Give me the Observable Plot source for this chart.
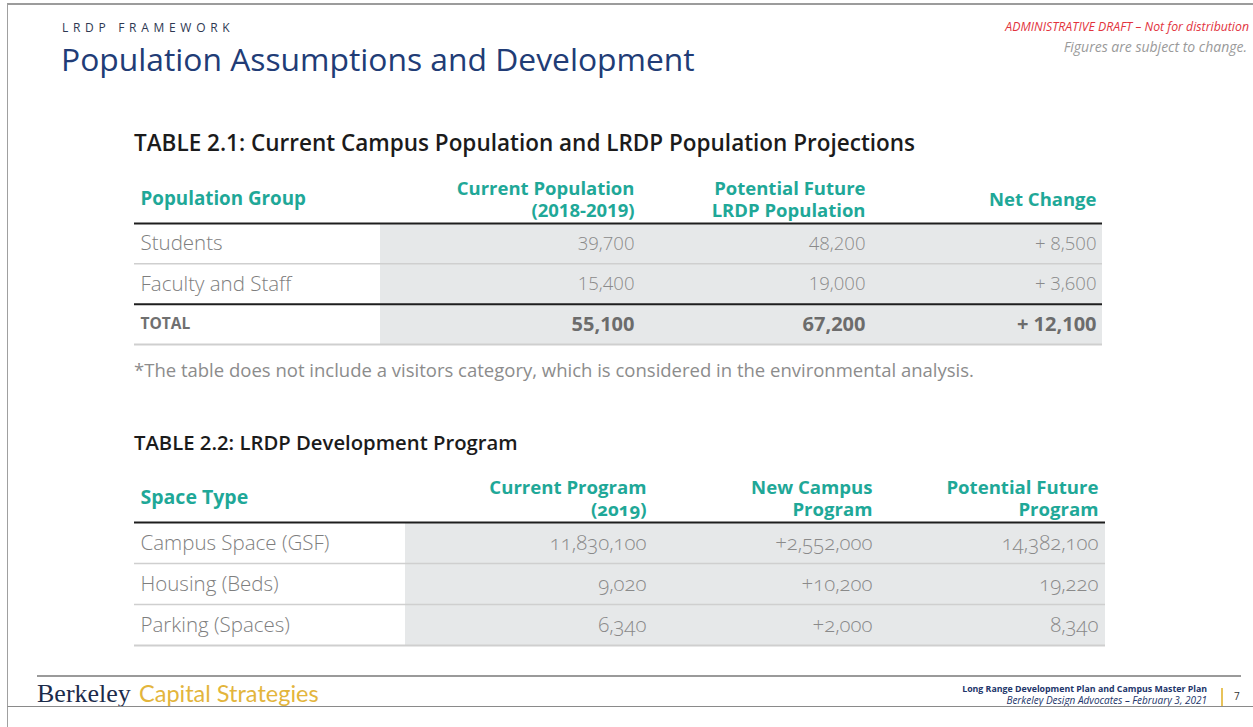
<!DOCTYPE html>
<html>
<head>
<meta charset="utf-8">
<script src="https://cdn.jsdelivr.net/npm/d3@7"></script>
<script src="https://cdn.jsdelivr.net/npm/@observablehq/plot@0.6"></script>
<style>
  html, body { margin: 0; padding: 0; background: #fff; }
  #page { position: relative; width: 1253px; height: 727px; overflow: hidden; background: #fff; }
  #slide { position: absolute; left: 7px; top: 3px; width: 1246px; height: 704px; overflow: hidden;
           border-top: 2px solid #9c9c9c; border-left: 1px solid #a0a0a0; border-bottom: 1.5px solid #8a8a8a;
           box-sizing: border-box; }
  #leftline { position: absolute; left: 7px; top: 3px; width: 1px; height: 724px; background: #a0a0a0; }
  .t { position: absolute; white-space: nowrap; line-height: 1; font-family: "Open Sans", sans-serif; }
  .plotwrap { position: absolute; left: -8px; }
  .plotwrap svg { display: block; overflow: visible; }
</style>
</head>
<body>
<div id="page">
  <div id="leftline"></div>
  <div id="slide">
    <div class="t" style="left:54px; top:17px; font-size:12px; letter-spacing:4.7px; color:#2e3852;">LRDP FRAMEWORK</div>
    <div class="t" style="left:53px; top:38px; font-size:31.8px; color:#213c76;">Population Assumptions and Development</div>
    <div class="t" style="right:4px; top:16px; font-size:12.3px; font-style:italic; color:#e2333d;">ADMINISTRATIVE DRAFT – Not for distribution</div>
    <div class="t" style="right:6px; top:35px; font-size:14px; font-style:italic; color:#9a9a9a;">Figures are subject to change.</div>

    <div class="t" style="left:126px; top:127px; font-size:22.5px; font-weight:600; color:#1b1b1b;">TABLE 2.1: Current Campus Population and LRDP Population Projections</div>
    <div class="plotwrap" id="table1" style="top:150px;"></div>
    <div class="t" style="left:126px; top:356px; font-size:18.5px; color:#8c8c8c;">*The table does not include a visitors category, which is considered in the environmental analysis.</div>

    <div class="t" style="left:126px; top:427px; font-size:20.3px; font-weight:600; color:#1b1b1b;">TABLE 2.2: LRDP Development Program</div>
    <div class="plotwrap" id="table2" style="top:450px;"></div>

    <div style="position:absolute; left:29px; top:670px; width:1204px; height:1.5px; background:#9a9a9a;"></div>
    <div class="t" style="left:29px; top:676px; font-family:'Liberation Serif', serif; font-size:26px; color:#1c2b4b;">Berkeley</div>
    <div class="t" style="left:131px; top:677px; font-family:Lato, sans-serif; font-size:23.5px; color:#e3b53c;">Capital Strategies</div>
    <div class="t" style="right:46px; top:680px; font-size:8.8px; font-weight:700; color:#22356a;">Long Range Development Plan and Campus Master Plan</div>
    <div class="t" style="right:46px; top:690px; font-size:10px; font-style:italic; color:#22356a;">Berkeley Design Advocates – February 3, 2021</div>
    <div style="position:absolute; left:1213px; top:683px; width:2px; height:22px; background:#e8c35a;"></div>
    <div class="t" style="left:1226px; top:686px; font-size:10px; color:#333;">7</div>
  </div>
</div>
<script>
// ---------- Data ----------
const popGroups = ["Students", "Faculty and Staff", "TOTAL"];
const popColumns = ["Current Population\n(2018-2019)", "Potential Future\nLRDP Population", "Net Change"];
const popCurrent = [39700, 15400, 55100];
const popFuture = [48200, 19000, 67200];
const popNet = [8500, 3600, 12100];
const popLabelHeader = "Population Group";

const spaceTypes = ["Campus Space (GSF)", "Housing (Beds)", "Parking (Spaces)"];
const progColumns = ["Current Program\n(2019)", "New Campus\nProgram", "Potential Future\nProgram"];
const progCurrent = [11830100, 9020, 6340];
const progNew = [2552000, 10200, 2000];
const progFuture = [14382100, 19220, 8340];
const progLabelHeader = "Space Type";

// ---------- Helpers ----------
const fmt = d3.format(",");
const teal = "#1fa898";
const shade = "#e6e8e9";
const textGray = "#8a8a8a";

function cellsFrom(columns, series, formats) {
  const out = [];
  series.forEach((vals, j) => {
    vals.forEach((v, i) => out.push({row: i, col: columns[j], value: v, label: formats[j](v)}));
  });
  return out;
}

// ---------- Table 2.1 ----------
const cells1 = cellsFrom(popColumns, [popCurrent, popFuture, popNet],
  [fmt, fmt, v => "+ " + fmt(v)]);
const totalRow = popGroups.length - 1;

const t1 = Plot.plot({
  width: 1253, height: 195,
  marginLeft: 134, marginRight: 151, marginTop: 0, marginBottom: 0,
  style: {fontFamily: "Open Sans, sans-serif", background: "transparent", overflow: "visible"},
  x: {type: "point", domain: popColumns, range: [634, 1096], padding: 0, axis: null},
  y: {domain: [0, popGroups.length], range: [68, 189], axis: null},
  marks: [
    Plot.rect(popGroups, {y1: (d, i) => i, y2: (d, i) => i + 1, fill: shade, insetLeft: 246}),
    Plot.ruleY(d3.range(1, popGroups.length).filter(i => i !== totalRow), {stroke: "#cfcfcf", strokeWidth: 1.5}),
    Plot.ruleY([popGroups.length], {stroke: "#cfcfcf", strokeWidth: 2}),
    Plot.ruleY([0, totalRow], {stroke: "#1e1e1e", strokeWidth: 2}),
    // header
    Plot.text([popLabelHeader], {frameAnchor: "left", dx: 6, y: -0.6, text: d => d, textAnchor: "start",
      fill: teal, fontWeight: 700, fontSize: 18.8}),
    Plot.text(popColumns, {x: d => d, y: -0.6, text: d => d, textAnchor: "end", lineHeight: 1.17,
      fill: teal, fontWeight: 700, fontSize: 18.5}),
    // row labels
    Plot.text(popGroups.filter((d, i) => i !== totalRow), {frameAnchor: "left", dx: 6, y: (d, i) => i + 0.5,
      text: d => d, textAnchor: "start", fill: "#7e7e7e", fontSize: 20.5, fontWeight: 300}),
    Plot.text([popGroups[totalRow]], {frameAnchor: "left", dx: 6, y: totalRow + 0.5, text: d => d,
      textAnchor: "start", fill: "#707070", fontSize: 15.5, fontWeight: 700, letterSpacing: 2.6}),
    // values
    Plot.text(cells1.filter(d => d.row !== totalRow), {x: "col", y: d => d.row + 0.5, text: "label",
      textAnchor: "end", fill: textGray, fontSize: 18.5, fontWeight: 300}),
    Plot.text(cells1.filter(d => d.row === totalRow), {x: "col", y: d => d.row + 0.5, text: "label",
      textAnchor: "end", fill: "#6c6c6c", fontSize: 20, fontWeight: 700})
  ]
});
document.getElementById("table1").appendChild(t1);

// ---------- Table 2.2 ----------
const cells2 = cellsFrom(progColumns, [progCurrent, progNew, progFuture],
  [fmt, v => "+" + fmt(v), fmt]);

const t2 = Plot.plot({
  width: 1253, height: 195,
  marginLeft: 134, marginRight: 148, marginTop: 0, marginBottom: 0,
  style: {fontFamily: "Open Sans, sans-serif", background: "transparent", overflow: "visible",
          fontVariantNumeric: "oldstyle-nums"},
  x: {type: "point", domain: progColumns, range: [646, 1098], padding: 0, axis: null},
  y: {domain: [0, spaceTypes.length], range: [67, 190], axis: null},
  marks: [
    Plot.rect(spaceTypes, {y1: (d, i) => i, y2: (d, i) => i + 1, fill: shade, insetLeft: 271}),
    Plot.ruleY(d3.range(1, spaceTypes.length), {stroke: "#cfcfcf", strokeWidth: 1.5}),
    Plot.ruleY([spaceTypes.length], {stroke: "#cfcfcf", strokeWidth: 2}),
    Plot.ruleY([0], {stroke: "#1e1e1e", strokeWidth: 2}),
    Plot.text([progLabelHeader], {frameAnchor: "left", dx: 6, y: -0.6, text: d => d, textAnchor: "start",
      fill: teal, fontWeight: 700, fontSize: 19.5}),
    Plot.text(progColumns, {x: d => d, y: -0.6, text: d => d, textAnchor: "end", lineHeight: 1.2,
      fill: teal, fontWeight: 700, fontSize: 18.6}),
    Plot.text(spaceTypes, {frameAnchor: "left", dx: 6, y: (d, i) => i + 0.5, text: d => d,
      textAnchor: "start", fill: "#7e7e7e", fontSize: 20.5, fontWeight: 300}),
    Plot.text(cells2, {x: "col", y: d => d.row + 0.5, text: "label", textAnchor: "end",
      fill: textGray, fontSize: 20.5, fontWeight: 300, letterSpacing: 1.6})
  ]
});
document.getElementById("table2").appendChild(t2);
</script>
</body>
</html>
